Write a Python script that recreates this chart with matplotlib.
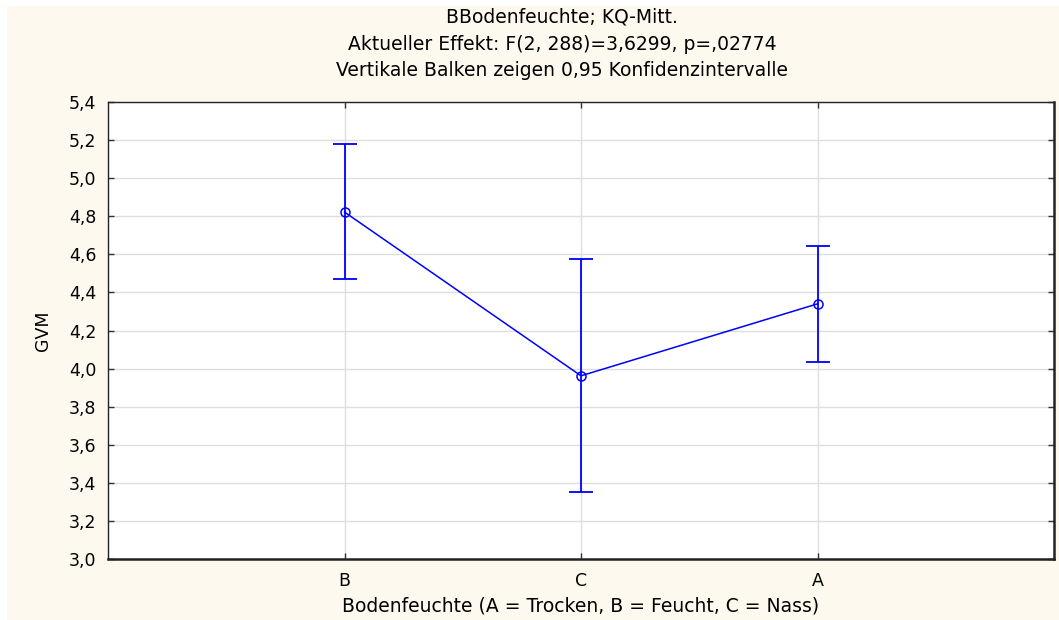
import matplotlib
matplotlib.use("Agg")
import matplotlib.pyplot as plt
from matplotlib.patches import Rectangle
from matplotlib.ticker import FuncFormatter

categories = ["B", "C", "A"]
means = [4.822, 3.962, 4.340]
ci_low = [4.470, 3.352, 4.035]
ci_high = [5.180, 4.575, 4.644]

title_lines = ["BBodenfeuchte; KQ-Mitt.",
               "Aktueller Effekt: F(2, 288)=3,6299, p=,02774",
               "Vertikale Balken zeigen 0,95 Konfidenzintervalle"]

plt.rcParams['font.family'] = ['DejaVu Sans']

fig = plt.figure(figsize=(10.59, 6.2), dpi=100, facecolor='white')
# cream panel with a thin white margin on the left and top
fig.patches.append(Rectangle((7 / 1059, 0), 1 - 7 / 1059, 1 - 6 / 620,
                             transform=fig.transFigure, facecolor='#fdf9ee',
                             edgecolor='none', zorder=-5))

ax = fig.add_axes([108 / 1059, 1 - 559 / 620, (1054 - 108) / 1059, (559 - 102) / 620])
ax.set_facecolor('white')

x = list(range(1, len(categories) + 1))
yerr = [[m - lo for m, lo in zip(means, ci_low)],
        [hi - m for m, hi in zip(means, ci_high)]]

ax.errorbar(x, means, yerr=yerr, fmt='none', ecolor='#0000ff',
            elinewidth=1.3, capsize=8.5, capthick=1.3, zorder=3)
ax.plot(x, means, color='#0000ff', linewidth=1.1, marker='o', markersize=6.5,
        markerfacecolor='none', markeredgecolor='#0000ff', markeredgewidth=1.1,
        zorder=4)

ax.set_xlim(0, 4)
ax.set_ylim(3.0, 5.4)
ax.set_xticks(x)
ax.set_xticklabels(categories)
ax.set_yticks([3.0 + 0.2 * i for i in range(13)])
ax.yaxis.set_major_formatter(FuncFormatter(lambda v, p: f"{v:.1f}".replace('.', ',')))

ax.grid(True, color='#dedede', linewidth=1.0, zorder=0)
ax.set_axisbelow(True)
ax.tick_params(axis='both', direction='in', length=4, width=1, color='#333333',
               labelsize=12.5, top=True, right=True, pad=8.5)
ax.tick_params(axis='x', pad=9)

for side in ['left', 'top']:
    ax.spines[side].set_linewidth(1.0)
    ax.spines[side].set_color('#222222')
for side in ['right', 'bottom']:
    ax.spines[side].set_linewidth(1.8)
    ax.spines[side].set_color('#222222')

ax.set_ylabel("GVM", fontsize=12.5, labelpad=12)
ax.set_xlabel("Bodenfeuchte (A = Trocken, B = Feucht, C = Nass)", fontsize=13.5, labelpad=5)

cx = 562 / 1059
for i, line in enumerate(title_lines):
    fig.text(cx, 1 - (17 + 27 * i) / 620, line, ha='center', va='center',
             fontsize=13.5)

fig.savefig("out.png", dpi=100, facecolor=fig.get_facecolor())
